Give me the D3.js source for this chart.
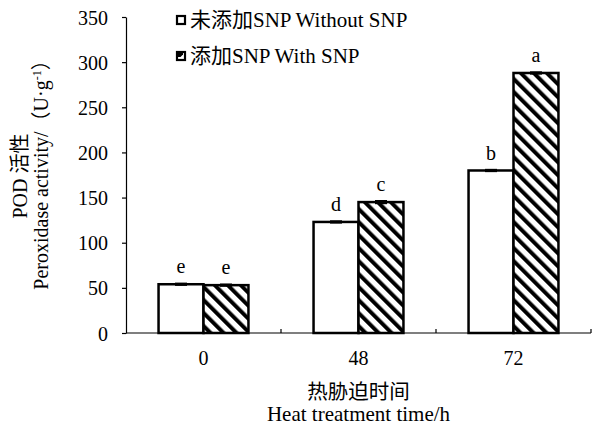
<!DOCTYPE html>
<html>
<head>
<meta charset="utf-8">
<script src="https://cdn.jsdelivr.net/npm/d3@7"></script>
<style>
  body { margin: 0; background: #fff; }
  svg text { font-family: "Liberation Serif", "Times New Roman", "Noto Sans CJK SC", serif; fill: #000; }
</style>
</head>
<body>
<svg id="chart" width="596" height="430"></svg>
<script>
// data
const times = ['0', '48', '72'];
const seriesKeys = ['without', 'with'];
const seriesNames = ['未添加SNP Without SNP', '添加SNP With SNP'];
const withoutSNP = [54, 123, 180];
const withSNP = [53, 145, 288];
const withoutErr = [1, 1, 1];
const withErr = [1, 1.5, 1];
const withoutLetters = ['e', 'd', 'b'];
const withLetters = ['e', 'c', 'a'];
const yTicks = [0, 50, 100, 150, 200, 250, 300, 350];

const svg = d3.select('#chart');
const margin = { top: 17, right: 5, bottom: 97, left: 126 };
const width = 596, height = 430;
const innerWidth = width - margin.left - margin.right;
const innerHeight = height - margin.top - margin.bottom;

// hatch pattern
const defs = svg.append('defs');
defs.append('pattern')
    .attr('id', 'hatch')
    .attr('patternUnits', 'userSpaceOnUse')
    .attr('width', 9.2)
    .attr('height', 9.2)
    .attr('patternTransform', 'rotate(-45)')
  .call(p => {
      p.append('rect').attr('width', 9.2).attr('height', 9.2).attr('fill', '#fff');
      p.append('rect').attr('width', 4).attr('height', 9.2).attr('fill', '#000');
  });

const g = svg.append('g')
    .attr('transform', `translate(${margin.left},${margin.top})`);

// scales
const x0 = d3.scaleBand().domain(times).range([0, innerWidth]).padding(0);
const groupW = x0.bandwidth() * 0.58;
const x1 = d3.scaleBand().domain(seriesKeys)
    .range([(x0.bandwidth() - groupW) / 2, (x0.bandwidth() + groupW) / 2]).padding(0);
const y = d3.scaleLinear().domain([0, 350]).range([innerHeight, 0]);

// y axis
const yAxis = g.append('g')
    .call(d3.axisLeft(y).tickValues(yTicks).tickSize(4).tickSizeOuter(0).tickPadding(14));
yAxis.select('.domain').attr('stroke', '#000').attr('stroke-width', 1.2);
yAxis.selectAll('.tick line').attr('stroke', '#000').attr('stroke-width', 1.2);
yAxis.selectAll('.tick text')
    .style('font-family', '"Liberation Serif", serif')
    .attr('font-size', 20)
    .attr('dy', '0.35em');

// bars
const rows = times.map((t, i) => ({
    time: t,
    vals: [
        { key: 'without', v: withoutSNP[i], e: withoutErr[i], letter: withoutLetters[i] },
        { key: 'with', v: withSNP[i], e: withErr[i], letter: withLetters[i] }
    ]
}));

const groups = g.selectAll('.grp')
    .data(rows)
    .join('g')
    .attr('class', 'grp')
    .attr('transform', d => `translate(${x0(d.time)},0)`);

groups.selectAll('rect')
    .data(d => d.vals)
    .join('rect')
    .attr('x', d => x1(d.key))
    .attr('y', d => y(d.v))
    .attr('width', x1.bandwidth())
    .attr('height', d => y(0) - y(d.v))
    .attr('fill', d => d.key === 'with' ? 'url(#hatch)' : '#fff')
    .attr('stroke', '#000')
    .attr('stroke-width', 2.5);

// error bars
groups.selectAll('.err')
    .data(d => d.vals)
    .join('g')
    .attr('class', 'err')
    .each(function(d) {
        const cx = x1(d.key) + x1.bandwidth() / 2;
        const el = d3.select(this);
        el.append('line')
            .attr('x1', cx).attr('x2', cx)
            .attr('y1', y(d.v + d.e)).attr('y2', y(d.v - d.e))
            .attr('stroke', '#000').attr('stroke-width', 1.5);
        [d.v + d.e, d.v - d.e].forEach(val => {
            el.append('line')
                .attr('x1', cx - 6).attr('x2', cx + 6)
                .attr('y1', y(val)).attr('y2', y(val))
                .attr('stroke', '#000').attr('stroke-width', 1.5);
        });
    });

// significance letters
groups.selectAll('.sig')
    .data(d => d.vals)
    .join('text')
    .attr('class', 'sig')
    .attr('x', d => x1(d.key) + x1.bandwidth() / 2)
    .attr('y', d => y(d.v + d.e) - 10)
    .attr('text-anchor', 'middle')
    .attr('font-size', 20)
    .text(d => d.letter);

// x axis
g.append('line')
    .attr('x1', 0).attr('x2', innerWidth)
    .attr('y1', y(0)).attr('y2', y(0))
    .attr('stroke', '#000').attr('stroke-width', 1.2);

times.forEach(t => {
    const bx = x0(t) + x0.bandwidth();
    g.append('line')
        .attr('x1', bx).attr('x2', bx)
        .attr('y1', y(0)).attr('y2', y(0) - 4)
        .attr('stroke', '#000').attr('stroke-width', 1.2);
});

g.selectAll('.xlab')
    .data(times)
    .join('text')
    .attr('class', 'xlab')
    .attr('x', d => x0(d) + x0.bandwidth() / 2)
    .attr('y', innerHeight + 32)
    .attr('text-anchor', 'middle')
    .attr('font-size', 20)
    .text(d => d);

// axis titles
g.append('text')
    .attr('x', innerWidth / 2)
    .attr('y', innerHeight + 66)
    .attr('text-anchor', 'middle')
    .attr('font-size', 20.5)
    .text('热胁迫时间');

g.append('text')
    .attr('x', innerWidth / 2)
    .attr('y', innerHeight + 88)
    .attr('text-anchor', 'middle')
    .attr('font-size', 21)
    .text('Heat treatment time/h');

const yt = svg.append('g')
    .attr('transform', 'translate(0,172) rotate(-90)');
yt.append('text')
    .attr('x', -4).attr('y', 27)
    .attr('text-anchor', 'middle')
    .attr('font-size', 20)
    .text('POD 活性');
const yt2 = yt.append('text')
    .attr('x', 2).attr('y', 48)
    .attr('text-anchor', 'middle')
    .attr('font-size', 20);
yt2.append('tspan').text('Peroxidase activity/（U·g');
yt2.append('tspan').attr('dy', -7).attr('font-size', 12).text('-1');
yt2.append('tspan').attr('dy', 7).text('）');

// legend
const legend = svg.append('g').attr('transform', 'translate(176,15)');
seriesNames.forEach((name, i) => {
    const lg = legend.append('g').attr('transform', `translate(0,${i * 36})`);
    lg.append('rect')
        .attr('x', 1).attr('y', 1).attr('width', 8).attr('height', 8)
        .attr('fill', '#fff').attr('stroke', '#000').attr('stroke-width', 2.2);
    if (i === 1) {
        lg.append('path')
            .attr('d', 'M1,1 L7,1 L7,3.5 L4.5,6 L1,6 Z')
            .attr('fill', '#000');
    }
    lg.append('text')
        .attr('x', 14).attr('y', 12)
        .attr('font-size', 21)
        .text(name);
});
</script>
</body>
</html>
